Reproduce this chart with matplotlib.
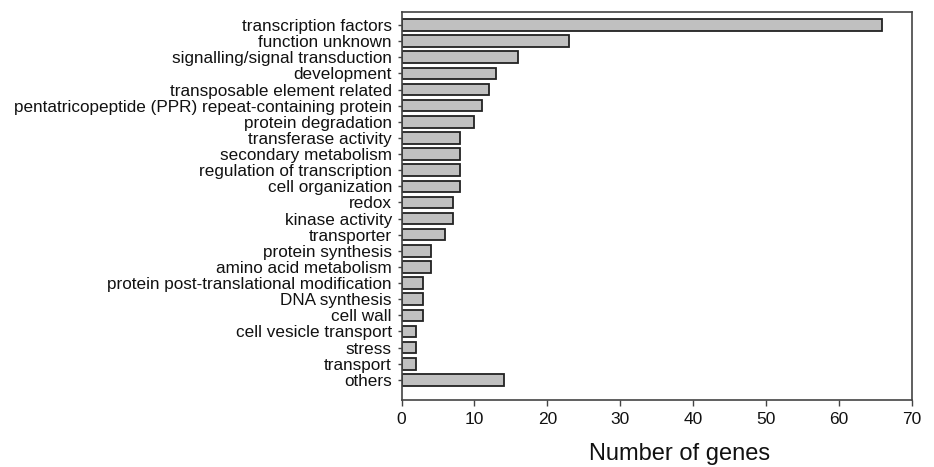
import matplotlib
matplotlib.use("Agg")
import matplotlib.pyplot as plt

categories = [
    "transcription factors", "function unknown", "signalling/signal transduction",
    "development", "transposable element related",
    "pentatricopeptide (PPR) repeat-containing protein", "protein degradation",
    "transferase activity", "secondary metabolism", "regulation of transcription",
    "cell organization", "redox", "kinase activity", "transporter",
    "protein synthesis", "amino acid metabolism",
    "protein post-translational modification", "DNA synthesis", "cell wall",
    "cell vesicle transport", "stress", "transport", "others",
]
values = [66, 23, 16, 13, 12, 11, 10, 8, 8, 8, 8, 7, 7, 6, 4, 4, 3, 3, 3, 2, 2, 2, 14]
xticks = [0, 10, 20, 30, 40, 50, 60, 70]

plt.rcParams['font.family'] = ['Liberation Sans', 'DejaVu Sans']

fig = plt.figure(figsize=(9.34, 4.67), dpi=100)
ax = fig.add_axes([0.430, 0.1435, 0.546, 0.8305])

pos = list(range(len(categories)))
ax.barh(pos, values, height=0.72, color='#c0c0c0', edgecolor='#222222', linewidth=1.3)
ax.set_yticks(pos)
ax.set_yticklabels(categories, fontsize=12.3, color='#111111')
ax.set_ylim(len(categories) - 1 + 1.25, -0.8)
ax.set_xlim(0, 70)
ax.set_xticks(xticks)
ax.set_xticklabels([str(t) for t in xticks], fontsize=12.5, color='#111111')
ax.set_xlabel("Number of genes", fontsize=17, color='#111111', labelpad=12)
ax.xaxis.set_label_coords(0.545, -0.11)
for s in ax.spines.values():
    s.set_color('#444444')
    s.set_linewidth(1.2)
ax.tick_params(axis='y', length=3, width=1, color='#444444', pad=4)
ax.tick_params(axis='x', length=4, width=1, color='#444444', pad=5)

fig.savefig("out.png", dpi=100)
